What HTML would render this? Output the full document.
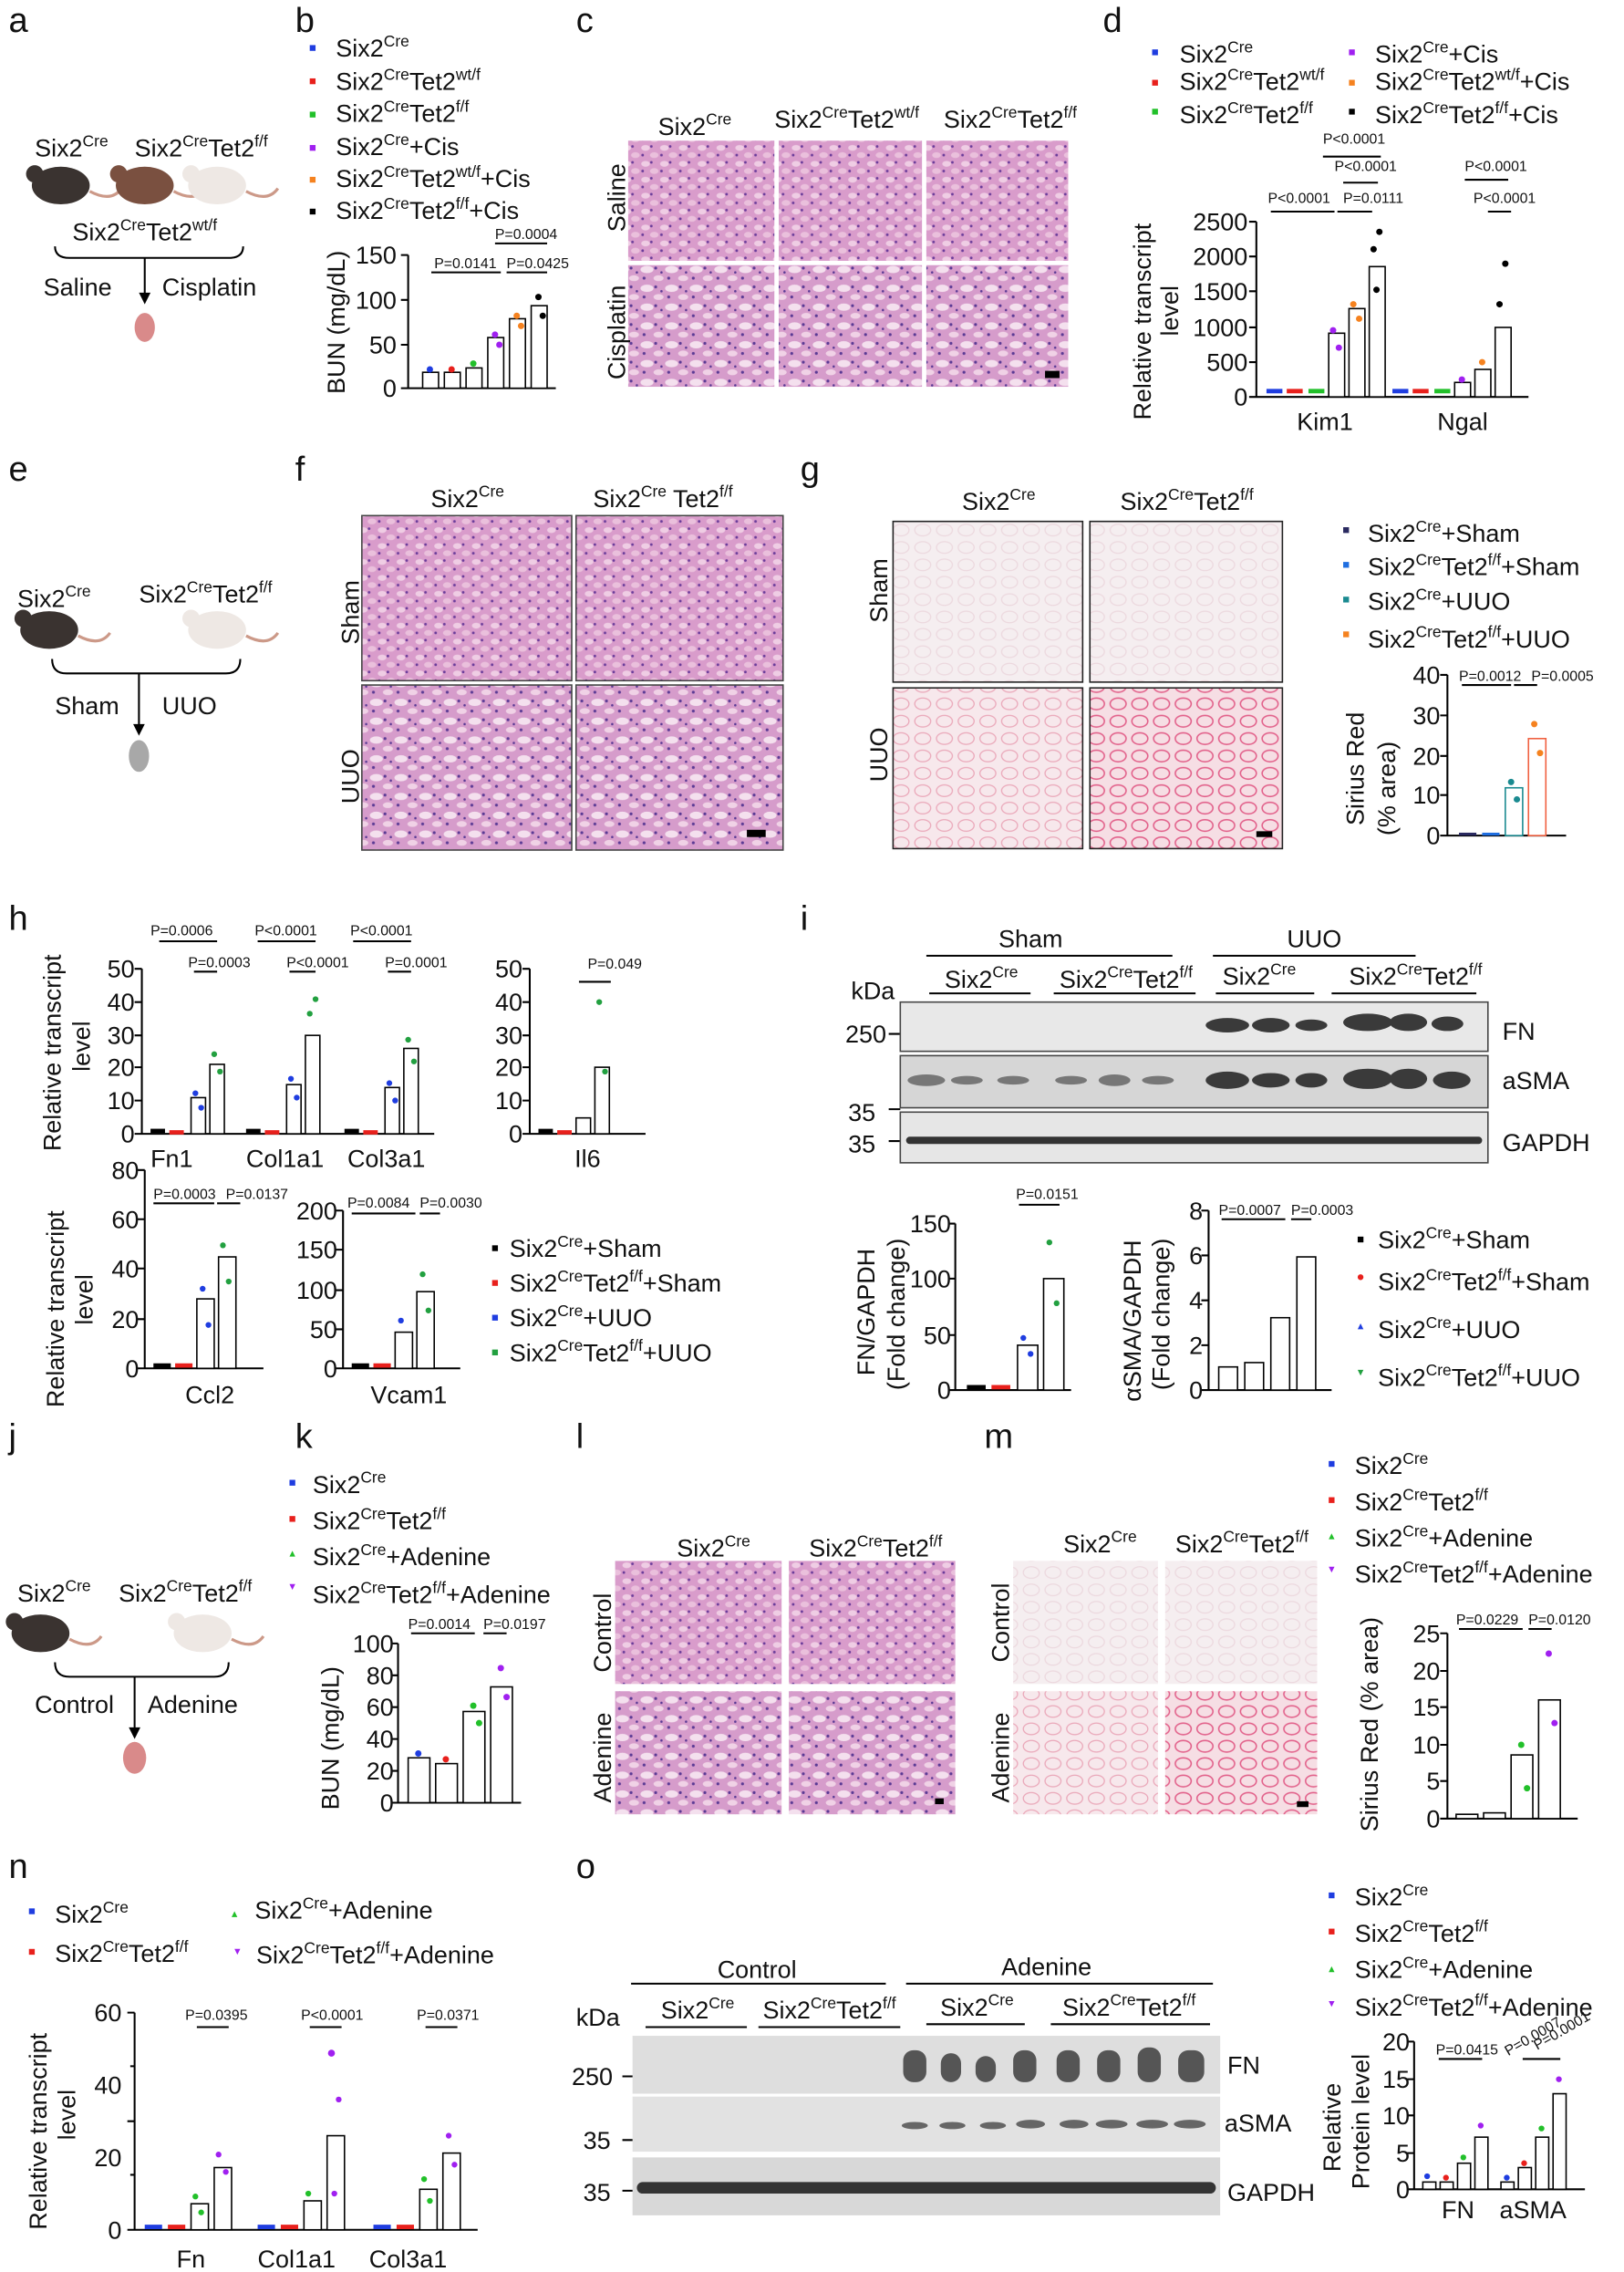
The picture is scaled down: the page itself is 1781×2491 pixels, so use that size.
<!DOCTYPE html>
<html><head><meta charset="utf-8"><style>
html,body{margin:0;padding:0;background:#fff}
svg{display:block}
text{font-family:"Liberation Sans",Arial,sans-serif;fill:#111}
.L{font-size:24px}
.t{font-size:17px}
.s{font-size:14px}
.p{font-size:10px}
.ax{stroke:#000;stroke-width:1.3;fill:none}
.b{fill:#fff;stroke:#000;stroke-width:1}
</style></head><body>
<svg width="1781" height="2491" viewBox="0 0 1122 1569" xmlns="http://www.w3.org/2000/svg">
<defs>
<pattern id="he" width="13" height="11" patternUnits="userSpaceOnUse">
<rect width="13" height="11" fill="#d99ccb"/>
<ellipse cx="4" cy="3" rx="3" ry="2" fill="#efcde4"/>
<ellipse cx="10" cy="8" rx="3" ry="2" fill="#eac0dc"/>
<circle cx="8" cy="2" r="0.9" fill="#6a3c9a"/>
<circle cx="2" cy="8" r="0.9" fill="#6a3c9a"/>
</pattern>
<pattern id="he2" width="17" height="13" patternUnits="userSpaceOnUse">
<rect width="17" height="13" fill="#d69ccb"/>
<ellipse cx="5" cy="4" rx="4.5" ry="2.5" fill="#f4e0ee"/>
<ellipse cx="13" cy="10" rx="3.5" ry="2" fill="#f0d2e6"/>
<circle cx="11" cy="3" r="1" fill="#5a3a94"/>
<circle cx="3" cy="10" r="1" fill="#5a3a94"/>
<circle cx="15" cy="6" r="0.8" fill="#5a3a94"/>
</pattern>
<pattern id="sr" width="15" height="12" patternUnits="userSpaceOnUse">
<rect width="15" height="12" fill="#f5eef0"/>
<ellipse cx="7.5" cy="6" rx="5.5" ry="4" fill="none" stroke="#ecd8de" stroke-width="0.8"/>
</pattern>
<pattern id="sr2" width="15" height="12" patternUnits="userSpaceOnUse">
<rect width="15" height="12" fill="#f7e8ec"/>
<ellipse cx="7.5" cy="6" rx="5.5" ry="4" fill="none" stroke="#eaa6b8" stroke-width="0.8"/>
</pattern>
<pattern id="sr3" width="15" height="12" patternUnits="userSpaceOnUse">
<rect width="15" height="12" fill="#f6dee4"/>
<ellipse cx="7.5" cy="6" rx="5.5" ry="4" fill="none" stroke="#e2608a" stroke-width="1"/>
</pattern>
<g id="mouse"><ellipse cx="0" cy="0" rx="20" ry="13"/><circle cx="-18" cy="-8" r="6"/><path d="M20 4 q15 8 22 -2" fill="none" stroke="#c98" stroke-width="2"/></g>
</defs>

<!-- Panel letters -->
<text class="L" x="6" y="22">a</text><text class="L" x="204" y="22">b</text><text class="L" x="398" y="22">c</text><text class="L" x="762" y="22">d</text>
<text class="L" x="6" y="332">e</text><text class="L" x="204" y="332">f</text><text class="L" x="553" y="332">g</text>
<text class="L" x="6" y="642">h</text><text class="L" x="553" y="642">i</text>
<text class="L" x="6" y="1000">j</text><text class="L" x="204" y="1000">k</text><text class="L" x="398" y="1000">l</text><text class="L" x="680" y="1000">m</text>
<text class="L" x="6" y="1297">n</text><text class="L" x="398" y="1297">o</text>

<!-- a -->
<text class="t" x="24" y="108">Six2<tspan font-size="11" dy="-7">Cre</tspan></text>
<text class="t" x="93" y="108">Six2<tspan font-size="11" dy="-7">Cre</tspan><tspan dy="7">Tet2</tspan><tspan font-size="11" dy="-7">f/f</tspan></text>
<use href="#mouse" x="42" y="128" fill="#3a3330"/><use href="#mouse" x="100" y="128" fill="#7a5040"/><use href="#mouse" x="150" y="128" fill="#eee8e4"/>
<text class="t" x="50" y="166">Six2<tspan font-size="11" dy="-7">Cre</tspan><tspan dy="7">Tet2</tspan><tspan font-size="11" dy="-7">wt/f</tspan></text>
<path d="M38 170 q0 8 10 8 h110 q10 0 10 -8 M100 178 v28" class="ax"/>
<path d="M96 202 l4 8 l4 -8z"/>
<text class="t" x="30" y="204">Saline</text><text class="t" x="112" y="204">Cisplatin</text>
<ellipse cx="100" cy="226" rx="7" ry="10" fill="#d98a8a"/>

<!-- b legend -->
<g class="t">
<rect x="214" y="31" width="4" height="4" fill="#1f3de0"/><text x="232" y="39">Six2<tspan font-size="11" dy="-7">Cre</tspan></text>
<rect x="214" y="54" width="4" height="4" fill="#e8201c"/><text x="232" y="62">Six2<tspan font-size="11" dy="-7">Cre</tspan><tspan dy="7">Tet2</tspan><tspan font-size="11" dy="-7">wt/f</tspan></text>
<rect x="214" y="77" width="4" height="4" fill="#22c02a"/><text x="232" y="84">Six2<tspan font-size="11" dy="-7">Cre</tspan><tspan dy="7">Tet2</tspan><tspan font-size="11" dy="-7">f/f</tspan></text>
<rect x="214" y="100" width="4" height="4" fill="#a020f0"/><text x="232" y="107">Six2<tspan font-size="11" dy="-7">Cre</tspan><tspan dy="7">+Cis</tspan></text>
<rect x="214" y="122" width="4" height="4" fill="#f5821f"/><text x="232" y="129">Six2<tspan font-size="11" dy="-7">Cre</tspan><tspan dy="7">Tet2</tspan><tspan font-size="11" dy="-7">wt/f</tspan><tspan dy="7">+Cis</tspan></text>
<rect x="214" y="144" width="4" height="4" fill="#000"/><text x="232" y="151">Six2<tspan font-size="11" dy="-7">Cre</tspan><tspan dy="7">Tet2</tspan><tspan font-size="11" dy="-7">f/f</tspan><tspan dy="7">+Cis</tspan></text>
</g>
<!-- b chart -->
<path class="ax" d="M282 176 V268 H384 M277 176h5 M277 207h5 M277 238h5 M277 268h5"/>
<g class="t" text-anchor="end"><text x="274" y="182">150</text><text x="274" y="213">100</text><text x="274" y="244">50</text><text x="274" y="274">0</text></g>
<text class="t" transform="translate(238,272) rotate(-90)">BUN (mg/dL)</text>
<rect class="b" x="292" y="257" width="11" height="11"/><rect class="b" x="307" y="257" width="11" height="11"/><rect class="b" x="322" y="254" width="11" height="14"/><rect class="b" x="337" y="233" width="11" height="35"/><rect class="b" x="352" y="220" width="11" height="48"/><rect class="b" x="367" y="211" width="11" height="57"/>
<g><circle cx="297" cy="255" r="2.2" fill="#1f3de0"/><circle cx="312" cy="255" r="2.2" fill="#e8201c"/><circle cx="327" cy="251" r="2.2" fill="#22c02a"/><circle cx="342" cy="231" r="2.2" fill="#a020f0"/><circle cx="345" cy="238" r="2.2" fill="#a020f0"/><circle cx="357" cy="218" r="2.2" fill="#f5821f"/><circle cx="360" cy="225" r="2.2" fill="#f5821f"/><circle cx="372" cy="205" r="2.2"/><circle cx="375" cy="218" r="2.2"/></g>
<path class="ax" d="M298 188h48 M350 188h28 M342 168h36"/>
<g class="p"><text x="300" y="185">P=0.0141</text><text x="350" y="185">P=0.0425</text><text x="342" y="165">P=0.0004</text></g>

<!-- c -->
<g class="t" text-anchor="middle"><text x="480" y="93">Six2<tspan font-size="11" dy="-7">Cre</tspan></text><text x="585" y="88">Six2<tspan font-size="11" dy="-7">Cre</tspan><tspan dy="7">Tet2</tspan><tspan font-size="11" dy="-7">wt/f</tspan></text><text x="698" y="88">Six2<tspan font-size="11" dy="-7">Cre</tspan><tspan dy="7">Tet2</tspan><tspan font-size="11" dy="-7">f/f</tspan></text></g>
<rect x="434" y="97" width="101" height="83" fill="url(#he)"/><rect x="538" y="97" width="99" height="83" fill="url(#he)"/><rect x="640" y="97" width="98" height="83" fill="url(#he)"/>
<rect x="434" y="183" width="101" height="84" fill="url(#he2)"/><rect x="538" y="183" width="99" height="84" fill="url(#he2)"/><rect x="640" y="183" width="98" height="84" fill="url(#he2)"/>
<rect x="722" y="256" width="10" height="5"/>
<text class="t" transform="translate(432,160) rotate(-90)">Saline</text><text class="t" transform="translate(432,262) rotate(-90)">Cisplatin</text>

<!-- d legend -->
<g class="t">
<rect x="796" y="34" width="4" height="4" fill="#1f3de0"/><text x="815" y="43">Six2<tspan font-size="11" dy="-7">Cre</tspan></text>
<rect x="796" y="55" width="4" height="4" fill="#e8201c"/><text x="815" y="62">Six2<tspan font-size="11" dy="-7">Cre</tspan><tspan dy="7">Tet2</tspan><tspan font-size="11" dy="-7">wt/f</tspan></text>
<rect x="796" y="75" width="4" height="4" fill="#22c02a"/><text x="815" y="85">Six2<tspan font-size="11" dy="-7">Cre</tspan><tspan dy="7">Tet2</tspan><tspan font-size="11" dy="-7">f/f</tspan></text>
<rect x="932" y="34" width="4" height="4" fill="#a020f0"/><text x="950" y="43">Six2<tspan font-size="11" dy="-7">Cre</tspan><tspan dy="7">+Cis</tspan></text>
<rect x="932" y="55" width="4" height="4" fill="#f5821f"/><text x="950" y="62">Six2<tspan font-size="11" dy="-7">Cre</tspan><tspan dy="7">Tet2</tspan><tspan font-size="11" dy="-7">wt/f</tspan><tspan dy="7">+Cis</tspan></text>
<rect x="932" y="75" width="4" height="4" fill="#000"/><text x="950" y="85">Six2<tspan font-size="11" dy="-7">Cre</tspan><tspan dy="7">Tet2</tspan><tspan font-size="11" dy="-7">f/f</tspan><tspan dy="7">+Cis</tspan></text>
</g>
<path class="ax" d="M868 153 V274 H1056 M863 153h5 M863 177h5 M863 201h5 M863 226h5 M863 250h5 M863 274h5"/>
<g class="t" text-anchor="end"><text x="862" y="159">2500</text><text x="862" y="183">2000</text><text x="862" y="207">1500</text><text x="862" y="232">1000</text><text x="862" y="256">500</text><text x="862" y="280">0</text></g>
<text class="t" transform="translate(795,290) rotate(-90)">Relative transcript</text><text class="t" transform="translate(814,232) rotate(-90)">level</text>
<g stroke-width="3"><path d="M875 270h11" stroke="#1f3de0"/><path d="M889 270h11" stroke="#e8201c"/><path d="M904 270h11" stroke="#22c02a"/><path d="M962 270h11" stroke="#1f3de0"/><path d="M976 270h11" stroke="#e8201c"/><path d="M991 270h11" stroke="#22c02a"/></g>
<rect class="b" x="918" y="230" width="11" height="44"/><rect class="b" x="932" y="213" width="11" height="61"/><rect class="b" x="946" y="184" width="11" height="90"/>
<rect class="b" x="1005" y="264" width="11" height="10"/><rect class="b" x="1019" y="255" width="11" height="19"/><rect class="b" x="1033" y="226" width="11" height="48"/>
<g><circle cx="921" cy="228" r="2.2" fill="#a020f0"/><circle cx="925" cy="240" r="2.2" fill="#a020f0"/><circle cx="935" cy="210" r="2.2" fill="#f5821f"/><circle cx="939" cy="220" r="2.2" fill="#f5821f"/><circle cx="949" cy="172" r="2.2"/><circle cx="953" cy="160" r="2.2"/><circle cx="951" cy="200" r="2.2"/><circle cx="1010" cy="262" r="2.2" fill="#a020f0"/><circle cx="1024" cy="250" r="2.2" fill="#f5821f"/><circle cx="1036" cy="210" r="2.2"/><circle cx="1040" cy="182" r="2.2"/></g>
<g class="t"><text x="896" y="297">Kim1</text><text x="993" y="297">Ngal</text></g>
<path class="ax" d="M878 146h44 M924 146h24 M928 126h24 M914 108h40 M1012 124h30 M1028 146h16"/>
<g class="p"><text x="876" y="140">P&lt;0.0001</text><text x="928" y="140">P=0.0111</text><text x="922" y="118">P&lt;0.0001</text><text x="914" y="99">P&lt;0.0001</text><text x="1012" y="118">P&lt;0.0001</text><text x="1018" y="140">P&lt;0.0001</text></g>

<!-- e -->
<text class="t" x="12" y="419">Six2<tspan font-size="11" dy="-7">Cre</tspan></text>
<text class="t" x="96" y="416">Six2<tspan font-size="11" dy="-7">Cre</tspan><tspan dy="7">Tet2</tspan><tspan font-size="11" dy="-7">f/f</tspan></text>
<use href="#mouse" x="34" y="435" fill="#3a3330"/><use href="#mouse" x="150" y="435" fill="#eee8e4"/>
<path d="M36 455 q0 10 10 10 h110 q10 0 10 -10 M96 465 v40" class="ax"/>
<path d="M92 500 l4 8 l4 -8z"/>
<text class="t" x="38" y="493">Sham</text><text class="t" x="112" y="493">UUO</text>
<ellipse cx="96" cy="522" rx="7" ry="11" fill="#a8a8a8"/>

<!-- f -->
<g class="t" text-anchor="middle"><text x="323" y="350">Six2<tspan font-size="11" dy="-7">Cre</tspan></text><text x="458" y="350">Six2<tspan font-size="11" dy="-7">Cre</tspan><tspan dy="7"> Tet2</tspan><tspan font-size="11" dy="-7">f/f</tspan></text></g>
<rect x="250" y="356" width="145" height="114" fill="url(#he)" stroke="#444"/><rect x="398" y="356" width="143" height="114" fill="url(#he)" stroke="#444"/>
<rect x="250" y="473" width="145" height="114" fill="url(#he2)" stroke="#444"/><rect x="398" y="473" width="143" height="114" fill="url(#he2)" stroke="#444"/>
<rect x="516" y="573" width="13" height="5"/>
<text class="t" transform="translate(248,445) rotate(-90)">Sham</text><text class="t" transform="translate(248,555) rotate(-90)">UUO</text>

<!-- g -->
<g class="t" text-anchor="middle"><text x="690" y="352">Six2<tspan font-size="11" dy="-7">Cre</tspan></text><text x="820" y="352">Six2<tspan font-size="11" dy="-7">Cre</tspan><tspan dy="7">Tet2</tspan><tspan font-size="11" dy="-7">f/f</tspan></text></g>
<rect x="617" y="360" width="131" height="111" fill="url(#sr)" stroke="#222"/><rect x="753" y="360" width="133" height="111" fill="url(#sr)" stroke="#222"/>
<rect x="617" y="475" width="131" height="111" fill="url(#sr2)" stroke="#222"/><rect x="753" y="475" width="133" height="111" fill="url(#sr3)" stroke="#222"/>
<rect x="868" y="574" width="11" height="4"/>
<text class="t" transform="translate(613,430) rotate(-90)">Sham</text><text class="t" transform="translate(613,540) rotate(-90)">UUO</text>
<g class="t">
<rect x="928" y="364" width="4" height="4" fill="#2a2a60"/><text x="945" y="374">Six2<tspan font-size="11" dy="-7">Cre</tspan><tspan dy="7">+Sham</tspan></text>
<rect x="928" y="388" width="4" height="4" fill="#1f6ee0"/><text x="945" y="397">Six2<tspan font-size="11" dy="-7">Cre</tspan><tspan dy="7">Tet2</tspan><tspan font-size="11" dy="-7">f/f</tspan><tspan dy="7">+Sham</tspan></text>
<rect x="928" y="412" width="4" height="4" fill="#1a8a90"/><text x="945" y="421">Six2<tspan font-size="11" dy="-7">Cre</tspan><tspan dy="7">+UUO</tspan></text>
<rect x="928" y="436" width="4" height="4" fill="#f5821f"/><text x="945" y="447">Six2<tspan font-size="11" dy="-7">Cre</tspan><tspan dy="7">Tet2</tspan><tspan font-size="11" dy="-7">f/f</tspan><tspan dy="7">+UUO</tspan></text>
</g>
<path class="ax" d="M1000 466 V577 H1082 M995 466h5 M995 494h5 M995 522h5 M995 549h5 M995 577h5"/>
<g class="t" text-anchor="end"><text x="995" y="472">40</text><text x="995" y="500">30</text><text x="995" y="528">20</text><text x="995" y="555">10</text><text x="995" y="583">0</text></g>
<text class="t" transform="translate(942,570) rotate(-90)">Sirius Red</text><text class="t" transform="translate(964,577) rotate(-90)">(% area)</text>
<rect x="1008" y="575" width="12" height="2" fill="#2a2a60"/><rect x="1024" y="575" width="12" height="2" fill="#1f6ee0"/>
<rect x="1040" y="544" width="12" height="33" fill="#fff" stroke="#1a8a90"/><rect x="1056" y="510" width="12" height="67" fill="#fff" stroke="#f06040"/>
<g><circle cx="1044" cy="540" r="2.2" fill="#1a8a90"/><circle cx="1048" cy="552" r="2.2" fill="#1a8a90"/><circle cx="1060" cy="500" r="2.2" fill="#f5821f"/><circle cx="1064" cy="520" r="2.2" fill="#f5821f"/></g>
<path class="ax" d="M1010 473h34 M1046 473h16"/>
<g class="p"><text x="1008" y="470">P=0.0012</text><text x="1058" y="470">P=0.0005</text></g>

<!-- h top -->
<path class="ax" d="M98 669 V783 H300 M93 669h5 M93 692h5 M93 715h5 M93 737h5 M93 760h5 M93 783h5"/>
<g class="t" text-anchor="end"><text x="93" y="675">50</text><text x="93" y="698">40</text><text x="93" y="721">30</text><text x="93" y="743">20</text><text x="93" y="766">10</text><text x="93" y="789">0</text></g>
<text class="t" transform="translate(42,795) rotate(-90)">Relative transcript</text><text class="t" transform="translate(62,740) rotate(-90)">level</text>
<rect class="b" x="132" y="758" width="10" height="25" stroke="#1f3de0"/><rect class="b" x="145" y="735" width="10" height="48" stroke="#22a040"/>
<rect class="b" x="198" y="749" width="10" height="34" stroke="#1f3de0"/><rect class="b" x="211" y="715" width="10" height="68" stroke="#22a040"/>
<rect class="b" x="266" y="751" width="10" height="32" stroke="#1f3de0"/><rect class="b" x="279" y="724" width="10" height="59" stroke="#22a040"/>
<g stroke-width="3"><path d="M104 781h10" stroke="#000"/><path d="M117 782h10" stroke="#e8201c"/><path d="M170 781h10" stroke="#000"/><path d="M183 782h10" stroke="#e8201c"/><path d="M238 781h10" stroke="#000"/><path d="M251 782h10" stroke="#e8201c"/></g>
<g fill="#1f3de0"><circle cx="135" cy="755" r="2"/><circle cx="139" cy="765" r="2"/><circle cx="201" cy="745" r="2"/><circle cx="205" cy="758" r="2"/><circle cx="269" cy="748" r="2"/><circle cx="273" cy="760" r="2"/></g>
<g fill="#22a040"><circle cx="148" cy="728" r="2"/><circle cx="152" cy="740" r="2"/><circle cx="214" cy="700" r="2"/><circle cx="218" cy="690" r="2"/><circle cx="282" cy="718" r="2"/><circle cx="286" cy="733" r="2"/></g>
<g class="t"><text x="104" y="806">Fn1</text><text x="170" y="806">Col1a1</text><text x="240" y="806">Col3a1</text></g>
<path class="ax" d="M110 650h40 M134 671h16 M178 650h40 M200 671h18 M244 650h40 M268 671h16"/>
<g class="p"><text x="104" y="646">P=0.0006</text><text x="130" y="668">P=0.0003</text><text x="176" y="646">P&lt;0.0001</text><text x="198" y="668">P&lt;0.0001</text><text x="242" y="646">P&lt;0.0001</text><text x="266" y="668">P=0.0001</text></g>
<path class="ax" d="M366 669 V783 H446 M361 669h5 M361 692h5 M361 715h5 M361 737h5 M361 760h5 M361 783h5"/>
<g class="t" text-anchor="end"><text x="361" y="675">50</text><text x="361" y="698">40</text><text x="361" y="721">30</text><text x="361" y="743">20</text><text x="361" y="766">10</text><text x="361" y="789">0</text></g>
<g stroke-width="3"><path d="M372 781h10" stroke="#000"/><path d="M385 782h10" stroke="#e8201c"/></g>
<rect class="b" x="398" y="772" width="10" height="11" stroke="#1f3de0"/><rect class="b" x="411" y="737" width="10" height="46" stroke="#22a040"/>
<g fill="#22a040"><circle cx="414" cy="692" r="2"/><circle cx="418" cy="740" r="2"/></g>
<path class="ax" d="M400 678h22"/><text class="p" x="406" y="669">P=0.049</text>
<text class="t" x="397" y="806">Il6</text>

<!-- h bottom -->
<path class="ax" d="M100 808 V945 H182 M95 808h5 M95 842h5 M95 876h5 M95 911h5 M95 945h5"/>
<g class="t" text-anchor="end"><text x="96" y="814">80</text><text x="96" y="848">60</text><text x="96" y="882">40</text><text x="96" y="917">20</text><text x="96" y="951">0</text></g>
<text class="t" transform="translate(44,972) rotate(-90)">Relative transcript</text><text class="t" transform="translate(64,915) rotate(-90)">level</text>
<g stroke-width="3"><path d="M106 943h12" stroke="#000"/><path d="M121 943h12" stroke="#e8201c"/></g>
<rect class="b" x="136" y="897" width="12" height="48" stroke="#1f3de0"/><rect class="b" x="151" y="868" width="12" height="77" stroke="#22a040"/>
<g fill="#1f3de0"><circle cx="140" cy="890" r="2"/><circle cx="144" cy="915" r="2"/></g><g fill="#22a040"><circle cx="154" cy="860" r="2"/><circle cx="158" cy="885" r="2"/></g>
<path class="ax" d="M106 831h42 M150 831h16"/>
<g class="p"><text x="106" y="828">P=0.0003</text><text x="156" y="828">P=0.0137</text></g>
<text class="t" x="128" y="969">Ccl2</text>
<path class="ax" d="M237 836 V945 H318 M232 836h5 M232 863h5 M232 891h5 M232 918h5 M232 945h5"/>
<g class="t" text-anchor="end"><text x="233" y="842">200</text><text x="233" y="869">150</text><text x="233" y="897">100</text><text x="233" y="924">50</text><text x="233" y="951">0</text></g>
<g stroke-width="3"><path d="M243 943h12" stroke="#000"/><path d="M258 943h12" stroke="#e8201c"/></g>
<rect class="b" x="273" y="920" width="12" height="25" stroke="#1f3de0"/><rect class="b" x="288" y="892" width="12" height="53" stroke="#22a040"/>
<g fill="#1f3de0"><circle cx="277" cy="912" r="2"/></g><g fill="#22a040"><circle cx="292" cy="880" r="2"/><circle cx="296" cy="905" r="2"/></g>
<path class="ax" d="M243 838h44 M290 838h14"/>
<g class="p"><text x="240" y="834">P=0.0084</text><text x="290" y="834">P=0.0030</text></g>
<text class="t" x="256" y="969">Vcam1</text>
<g class="t">
<rect x="340" y="860" width="4" height="4"/><text x="352" y="868">Six2<tspan font-size="11" dy="-7">Cre</tspan><tspan dy="7">+Sham</tspan></text>
<rect x="340" y="884" width="4" height="4" fill="#e8201c"/><text x="352" y="892">Six2<tspan font-size="11" dy="-7">Cre</tspan><tspan dy="7">Tet2</tspan><tspan font-size="11" dy="-7">f/f</tspan><tspan dy="7">+Sham</tspan></text>
<rect x="340" y="908" width="4" height="4" fill="#1f3de0"/><text x="352" y="916">Six2<tspan font-size="11" dy="-7">Cre</tspan><tspan dy="7">+UUO</tspan></text>
<rect x="340" y="932" width="4" height="4" fill="#22a040"/><text x="352" y="940">Six2<tspan font-size="11" dy="-7">Cre</tspan><tspan dy="7">Tet2</tspan><tspan font-size="11" dy="-7">f/f</tspan><tspan dy="7">+UUO</tspan></text>
</g>

<!-- i blot -->
<g class="t" text-anchor="middle"><text x="712" y="654">Sham</text><text x="908" y="654">UUO</text>
<text x="678" y="682">Six2<tspan font-size="11" dy="-7">Cre</tspan></text><text x="778" y="682">Six2<tspan font-size="11" dy="-7">Cre</tspan><tspan dy="7">Tet2</tspan><tspan font-size="11" dy="-7">f/f</tspan></text>
<text x="870" y="680">Six2<tspan font-size="11" dy="-7">Cre</tspan></text><text x="978" y="680">Six2<tspan font-size="11" dy="-7">Cre</tspan><tspan dy="7">Tet2</tspan><tspan font-size="11" dy="-7">f/f</tspan></text></g>
<path class="ax" d="M640 660h170 M838 660h140 M642 686h70 M728 686h98 M840 686h68 M920 686h100"/>
<text class="t" x="588" y="690">kDa</text>
<text class="t" x="584" y="720">250</text><text class="t" x="586" y="774">35</text><text class="t" x="586" y="796">35</text>
<path class="ax" d="M614 714h8 M614 766h8 M614 788h8"/>
<rect x="622" y="692" width="406" height="34" fill="#e8e8e8" stroke="#444"/>
<rect x="622" y="729" width="406" height="36" fill="#d6d6d6" stroke="#444"/>
<rect x="622" y="768" width="406" height="35" fill="#e6e6e6" stroke="#444"/>
<g fill="#3a3a3a"><ellipse cx="848" cy="708" rx="15" ry="5"/><ellipse cx="878" cy="708" rx="13" ry="5"/><ellipse cx="906" cy="708" rx="11" ry="4"/><ellipse cx="945" cy="706" rx="17" ry="6"/><ellipse cx="973" cy="706" rx="13" ry="6"/><ellipse cx="1000" cy="707" rx="11" ry="5"/></g>
<g fill="#777"><ellipse cx="640" cy="746" rx="13" ry="4"/><ellipse cx="668" cy="746" rx="11" ry="3"/><ellipse cx="700" cy="746" rx="11" ry="3"/><ellipse cx="740" cy="746" rx="11" ry="3"/><ellipse cx="770" cy="746" rx="11" ry="4"/><ellipse cx="800" cy="746" rx="11" ry="3"/></g>
<g fill="#3a3a3a"><ellipse cx="848" cy="746" rx="15" ry="6"/><ellipse cx="878" cy="746" rx="13" ry="5"/><ellipse cx="906" cy="746" rx="11" ry="5"/><ellipse cx="945" cy="745" rx="17" ry="7"/><ellipse cx="973" cy="745" rx="13" ry="7"/><ellipse cx="1003" cy="746" rx="13" ry="6"/></g>
<rect x="626" y="785" width="398" height="5" rx="2.5" fill="#333"/>
<g class="t"><text x="1038" y="718">FN</text><text x="1038" y="752">aSMA</text><text x="1038" y="795">GAPDH</text></g>
<!-- i charts -->
<path class="ax" d="M660 845 V960 H740 M655 845h5 M655 883h5 M655 922h5 M655 960h5"/>
<g class="t" text-anchor="end"><text x="657" y="851">150</text><text x="657" y="889">100</text><text x="657" y="928">50</text><text x="657" y="966">0</text></g>
<text class="t" transform="translate(604,950) rotate(-90)">FN/GAPDH</text><text class="t" transform="translate(625,960) rotate(-90)">(Fold change)</text>
<g stroke-width="3"><path d="M668 958h13" stroke="#000"/><path d="M685 958h13" stroke="#e8201c"/></g>
<rect class="b" x="703" y="929" width="14" height="31" stroke="#1f3de0"/><rect class="b" x="721" y="883" width="14" height="77" stroke="#22a040"/>
<g><circle cx="707" cy="924" r="2" fill="#1f3de0"/><circle cx="712" cy="935" r="2" fill="#1f3de0"/><circle cx="725" cy="858" r="2" fill="#22a040"/><circle cx="730" cy="900" r="2" fill="#22a040"/></g>
<path class="ax" d="M704 832h28"/><text class="p" x="702" y="828">P=0.0151</text>
<path class="ax" d="M835 836 V960 H920 M830 836h5 M830 867h5 M830 898h5 M830 929h5 M830 960h5"/>
<g class="t" text-anchor="end"><text x="831" y="842">8</text><text x="831" y="873">6</text><text x="831" y="904">4</text><text x="831" y="935">2</text><text x="831" y="966">0</text></g>
<text class="t" transform="translate(788,968) rotate(-90)">αSMA/GAPDH</text><text class="t" transform="translate(808,960) rotate(-90)">(Fold change)</text>
<rect class="b" x="842" y="944" width="13" height="16"/><rect class="b" x="860" y="941" width="13" height="19" stroke="#e8201c"/><rect class="b" x="878" y="910" width="13" height="50" stroke="#1f3de0"/><rect class="b" x="896" y="868" width="13" height="92" stroke="#22a040"/>
<path class="ax" d="M844 842h44 M892 842h14"/>
<g class="p"><text x="842" y="839">P=0.0007</text><text x="892" y="839">P=0.0003</text></g>
<g class="t">
<rect x="938" y="854" width="4" height="4"/><text x="952" y="862">Six2<tspan font-size="11" dy="-7">Cre</tspan><tspan dy="7">+Sham</tspan></text>
<circle cx="940" cy="882" r="2" fill="#e8201c"/><text x="952" y="891">Six2<tspan font-size="11" dy="-7">Cre</tspan><tspan dy="7">Tet2</tspan><tspan font-size="11" dy="-7">f/f</tspan><tspan dy="7">+Sham</tspan></text>
<path d="M938 918l2 -4l2 4z" fill="#1f3de0"/><text x="952" y="924">Six2<tspan font-size="11" dy="-7">Cre</tspan><tspan dy="7">+UUO</tspan></text>
<path d="M938 946l2 4l2 -4z" fill="#22a040"/><text x="952" y="957">Six2<tspan font-size="11" dy="-7">Cre</tspan><tspan dy="7">Tet2</tspan><tspan font-size="11" dy="-7">f/f</tspan><tspan dy="7">+UUO</tspan></text>
</g>

<!-- j -->
<text class="t" x="12" y="1106">Six2<tspan font-size="11" dy="-7">Cre</tspan></text>
<text class="t" x="82" y="1106">Six2<tspan font-size="11" dy="-7">Cre</tspan><tspan dy="7">Tet2</tspan><tspan font-size="11" dy="-7">f/f</tspan></text>
<use href="#mouse" x="28" y="1128" fill="#3a3330"/><use href="#mouse" x="140" y="1128" fill="#eee8e4"/>
<path d="M38 1148 q0 10 10 10 h100 q10 0 10 -10 M93 1158 v40" class="ax"/>
<path d="M89 1193 l4 8 l4 -8z"/>
<text class="t" x="24" y="1183">Control</text><text class="t" x="102" y="1183">Adenine</text>
<ellipse cx="93" cy="1214" rx="8" ry="11" fill="#d98a8a"/>

<!-- k -->
<g class="t">
<rect x="200" y="1022" width="4" height="4" fill="#1f3de0"/><text x="216" y="1031">Six2<tspan font-size="11" dy="-7">Cre</tspan></text>
<rect x="200" y="1047" width="4" height="4" fill="#e8201c"/><text x="216" y="1056">Six2<tspan font-size="11" dy="-7">Cre</tspan><tspan dy="7">Tet2</tspan><tspan font-size="11" dy="-7">f/f</tspan></text>
<path d="M200 1075l2 -4l2 4z" fill="#22c02a"/><text x="216" y="1081">Six2<tspan font-size="11" dy="-7">Cre</tspan><tspan dy="7">+Adenine</tspan></text>
<path d="M200 1094l2 4l2 -4z" fill="#a020f0"/><text x="216" y="1107">Six2<tspan font-size="11" dy="-7">Cre</tspan><tspan dy="7">Tet2</tspan><tspan font-size="11" dy="-7">f/f</tspan><tspan dy="7">+Adenine</tspan></text>
</g>
<path class="ax" d="M275 1135 V1245 H360 M270 1135h5 M270 1157h5 M270 1179h5 M270 1201h5 M270 1223h5 M270 1245h5"/>
<g class="t" text-anchor="end"><text x="272" y="1141">100</text><text x="272" y="1163">80</text><text x="272" y="1185">60</text><text x="272" y="1207">40</text><text x="272" y="1229">20</text><text x="272" y="1251">0</text></g>
<text class="t" transform="translate(234,1250) rotate(-90)">BUN (mg/dL)</text>
<rect class="b" x="282" y="1214" width="15" height="31"/><rect class="b" x="301" y="1218" width="15" height="27"/><rect class="b" x="320" y="1182" width="15" height="63"/><rect class="b" x="339" y="1165" width="15" height="80"/>
<g><circle cx="289" cy="1211" r="2.2" fill="#1f3de0"/><circle cx="308" cy="1215" r="2.2" fill="#e8201c"/><circle cx="327" cy="1178" r="2.2" fill="#22c02a"/><circle cx="331" cy="1190" r="2.2" fill="#22c02a"/><circle cx="346" cy="1152" r="2.2" fill="#a020f0"/><circle cx="350" cy="1172" r="2.2" fill="#a020f0"/></g>
<path class="ax" d="M284 1128h44 M334 1128h16"/>
<g class="p"><text x="282" y="1125">P=0.0014</text><text x="334" y="1125">P=0.0197</text></g>

<!-- l -->
<g class="t" text-anchor="middle"><text x="493" y="1075">Six2<tspan font-size="11" dy="-7">Cre</tspan></text><text x="605" y="1075">Six2<tspan font-size="11" dy="-7">Cre</tspan><tspan dy="7">Tet2</tspan><tspan font-size="11" dy="-7">f/f</tspan></text></g>
<rect x="425" y="1078" width="115" height="85" fill="url(#he)"/><rect x="545" y="1078" width="115" height="85" fill="url(#he)"/>
<rect x="425" y="1168" width="115" height="85" fill="url(#he2)"/><rect x="545" y="1168" width="115" height="85" fill="url(#he2)"/>
<rect x="646" y="1242" width="6" height="4"/>
<text class="t" transform="translate(422,1155) rotate(-90)">Control</text><text class="t" transform="translate(422,1245) rotate(-90)">Adenine</text>

<!-- m -->
<g class="t" text-anchor="middle"><text x="760" y="1072">Six2<tspan font-size="11" dy="-7">Cre</tspan></text><text x="858" y="1072">Six2<tspan font-size="11" dy="-7">Cre</tspan><tspan dy="7">Tet2</tspan><tspan font-size="11" dy="-7">f/f</tspan></text></g>
<rect x="700" y="1078" width="100" height="85" fill="url(#sr)"/><rect x="805" y="1078" width="105" height="85" fill="url(#sr)"/>
<rect x="700" y="1168" width="100" height="85" fill="url(#sr2)"/><rect x="805" y="1168" width="105" height="85" fill="url(#sr3)"/>
<rect x="896" y="1244" width="8" height="4"/>
<text class="t" transform="translate(697,1148) rotate(-90)">Control</text><text class="t" transform="translate(697,1245) rotate(-90)">Adenine</text>
<g class="t">
<rect x="918" y="1009" width="4" height="4" fill="#1f3de0"/><text x="936" y="1018">Six2<tspan font-size="11" dy="-7">Cre</tspan></text>
<rect x="918" y="1034" width="4" height="4" fill="#e8201c"/><text x="936" y="1043">Six2<tspan font-size="11" dy="-7">Cre</tspan><tspan dy="7">Tet2</tspan><tspan font-size="11" dy="-7">f/f</tspan></text>
<path d="M918 1063l2 -4l2 4z" fill="#22c02a"/><text x="936" y="1068">Six2<tspan font-size="11" dy="-7">Cre</tspan><tspan dy="7">+Adenine</tspan></text>
<path d="M918 1082l2 4l2 -4z" fill="#a020f0"/><text x="936" y="1093">Six2<tspan font-size="11" dy="-7">Cre</tspan><tspan dy="7">Tet2</tspan><tspan font-size="11" dy="-7">f/f</tspan><tspan dy="7">+Adenine</tspan></text>
</g>
<path class="ax" d="M1000 1128 V1256 H1090 M995 1128h5 M995 1154h5 M995 1179h5 M995 1205h5 M995 1230h5 M995 1256h5"/>
<g class="t" text-anchor="end"><text x="995" y="1134">25</text><text x="995" y="1160">20</text><text x="995" y="1185">15</text><text x="995" y="1211">10</text><text x="995" y="1236">5</text><text x="995" y="1262">0</text></g>
<text class="t" transform="translate(952,1265) rotate(-90)">Sirius Red (% area)</text>
<rect class="b" x="1006" y="1253" width="15" height="3"/><rect class="b" x="1025" y="1252" width="15" height="4"/><rect class="b" x="1044" y="1212" width="15" height="44"/><rect class="b" x="1063" y="1174" width="15" height="82"/>
<g><circle cx="1051" cy="1205" r="2.2" fill="#22c02a"/><circle cx="1055" cy="1235" r="2.2" fill="#22c02a"/><circle cx="1070" cy="1142" r="2.2" fill="#a020f0"/><circle cx="1074" cy="1190" r="2.2" fill="#a020f0"/></g>
<path class="ax" d="M1008 1125h44 M1056 1125h16"/>
<g class="p"><text x="1006" y="1122">P=0.0229</text><text x="1056" y="1122">P=0.0120</text></g>

<!-- n -->
<g class="t">
<rect x="20" y="1318" width="4" height="4" fill="#1f3de0"/><text x="38" y="1328">Six2<tspan font-size="11" dy="-7">Cre</tspan></text>
<rect x="20" y="1346" width="4" height="4" fill="#e8201c"/><text x="38" y="1355">Six2<tspan font-size="11" dy="-7">Cre</tspan><tspan dy="7">Tet2</tspan><tspan font-size="11" dy="-7">f/f</tspan></text>
<path d="M160 1324l2 -4l2 4z" fill="#22c02a"/><text x="176" y="1325">Six2<tspan font-size="11" dy="-7">Cre</tspan><tspan dy="7">+Adenine</tspan></text>
<path d="M162 1346l2 4l2 -4z" fill="#a020f0"/><text x="177" y="1356">Six2<tspan font-size="11" dy="-7">Cre</tspan><tspan dy="7">Tet2</tspan><tspan font-size="11" dy="-7">f/f</tspan><tspan dy="7">+Adenine</tspan></text>
</g>
<path class="ax" d="M93 1390 V1540 H330 M88 1390h5 M88 1465h5 M88 1540h5 M90 1427h3 M90 1502h3"/>
<g class="t" text-anchor="end"><text x="84" y="1396">60</text><text x="84" y="1446">40</text><text x="84" y="1496">20</text><text x="84" y="1546">0</text></g>
<text class="t" transform="translate(32,1540) rotate(-90)">Relative transcript</text><text class="t" transform="translate(52,1478) rotate(-90)">level</text>
<g stroke-width="3"><path d="M100 1538h12" stroke="#1f3de0"/><path d="M116 1538h12" stroke="#e8201c"/><path d="M178 1538h12" stroke="#1f3de0"/><path d="M194 1538h12" stroke="#e8201c"/><path d="M258 1538h12" stroke="#1f3de0"/><path d="M274 1538h12" stroke="#e8201c"/></g>
<rect class="b" x="132" y="1522" width="12" height="18" stroke="#22c02a"/><rect class="b" x="148" y="1497" width="12" height="43" stroke="#a020f0"/>
<rect class="b" x="210" y="1520" width="12" height="20" stroke="#22c02a"/><rect class="b" x="226" y="1475" width="12" height="65" stroke="#a020f0"/>
<rect class="b" x="290" y="1512" width="12" height="28" stroke="#22c02a"/><rect class="b" x="306" y="1487" width="12" height="53" stroke="#a020f0"/>
<g fill="#a020f0"><circle cx="151" cy="1488" r="2"/><circle cx="156" cy="1500" r="2"/><circle cx="229" cy="1418" r="2.4"/><circle cx="234" cy="1450" r="2"/><circle cx="231" cy="1515" r="2"/><circle cx="310" cy="1475" r="2"/><circle cx="314" cy="1495" r="2"/></g>
<g fill="#22c02a"><circle cx="135" cy="1517" r="2"/><circle cx="139" cy="1528" r="2"/><circle cx="213" cy="1515" r="2"/><circle cx="293" cy="1505" r="2"/><circle cx="297" cy="1520" r="2"/></g>
<path class="ax" d="M136 1400h22 M214 1400h22 M294 1400h22"/>
<g class="p"><text x="128" y="1395">P=0.0395</text><text x="208" y="1395">P&lt;0.0001</text><text x="288" y="1395">P=0.0371</text></g>
<g class="t"><text x="122" y="1566">Fn</text><text x="178" y="1566">Col1a1</text><text x="255" y="1566">Col3a1</text></g>

<!-- o blot -->
<g class="t" text-anchor="middle"><text x="523" y="1366">Control</text><text x="723" y="1364">Adenine</text>
<text x="482" y="1394">Six2<tspan font-size="11" dy="-7">Cre</tspan></text><text x="573" y="1394">Six2<tspan font-size="11" dy="-7">Cre</tspan><tspan dy="7">Tet2</tspan><tspan font-size="11" dy="-7">f/f</tspan></text>
<text x="675" y="1392">Six2<tspan font-size="11" dy="-7">Cre</tspan></text><text x="780" y="1392">Six2<tspan font-size="11" dy="-7">Cre</tspan><tspan dy="7">Tet2</tspan><tspan font-size="11" dy="-7">f/f</tspan></text></g>
<path class="ax" d="M436 1370h176 M626 1370h212 M446 1400h70 M524 1400h98 M640 1398h68 M726 1398h110"/>
<text class="t" x="398" y="1399">kDa</text><text class="t" x="395" y="1440">250</text><text class="t" x="403" y="1484">35</text><text class="t" x="403" y="1520">35</text>
<path class="ax" d="M430 1434h8 M430 1478h8 M430 1513h8"/>
<rect x="437" y="1406" width="406" height="40" fill="#dedede"/>
<rect x="437" y="1448" width="406" height="38" fill="#e2e2e2"/>
<rect x="437" y="1490" width="406" height="40" fill="#d8d8d8"/>
<g fill="#555"><rect x="624" y="1416" width="16" height="22" rx="7"/><rect x="650" y="1418" width="14" height="20" rx="7"/><rect x="674" y="1420" width="14" height="18" rx="7"/><rect x="700" y="1416" width="16" height="22" rx="7"/><rect x="730" y="1416" width="16" height="22" rx="7"/><rect x="758" y="1416" width="16" height="22" rx="7"/><rect x="786" y="1414" width="16" height="24" rx="7"/><rect x="814" y="1416" width="18" height="22" rx="7"/></g>
<g fill="#666"><ellipse cx="632" cy="1468" rx="9" ry="2.5"/><ellipse cx="658" cy="1468" rx="9" ry="2.5"/><ellipse cx="686" cy="1468" rx="9" ry="2.5"/><ellipse cx="712" cy="1467" rx="10" ry="3"/><ellipse cx="742" cy="1467" rx="10" ry="3"/><ellipse cx="768" cy="1467" rx="11" ry="3"/><ellipse cx="796" cy="1467" rx="11" ry="3"/><ellipse cx="822" cy="1467" rx="11" ry="3"/></g>
<rect x="440" y="1507" width="400" height="8" rx="4" fill="#333"/>
<g class="t"><text x="848" y="1432">FN</text><text x="846" y="1472">aSMA</text><text x="848" y="1520">GAPDH</text></g>
<!-- o chart -->
<g class="t">
<rect x="918" y="1307" width="4" height="4" fill="#1f3de0"/><text x="936" y="1316">Six2<tspan font-size="11" dy="-7">Cre</tspan></text>
<rect x="918" y="1332" width="4" height="4" fill="#e8201c"/><text x="936" y="1341">Six2<tspan font-size="11" dy="-7">Cre</tspan><tspan dy="7">Tet2</tspan><tspan font-size="11" dy="-7">f/f</tspan></text>
<path d="M918 1362l2 -4l2 4z" fill="#22c02a"/><text x="936" y="1366">Six2<tspan font-size="11" dy="-7">Cre</tspan><tspan dy="7">+Adenine</tspan></text>
<path d="M918 1382l2 4l2 -4z" fill="#a020f0"/><text x="936" y="1392">Six2<tspan font-size="11" dy="-7">Cre</tspan><tspan dy="7">Tet2</tspan><tspan font-size="11" dy="-7">f/f</tspan><tspan dy="7">+Adenine</tspan></text>
</g>
<path class="ax" d="M977 1410 V1512 H1095 M972 1410h5 M972 1436h5 M972 1461h5 M972 1487h5 M972 1512h5"/>
<g class="t" text-anchor="end"><text x="974" y="1416">20</text><text x="974" y="1442">15</text><text x="974" y="1467">10</text><text x="974" y="1493">5</text><text x="974" y="1518">0</text></g>
<text class="t" transform="translate(926,1500) rotate(-90)">Relative</text><text class="t" transform="translate(946,1512) rotate(-90)">Protein level</text>
<rect class="b" x="983" y="1507" width="9" height="5"/><rect class="b" x="995" y="1507" width="9" height="5"/><rect class="b" x="1007" y="1494" width="9" height="18"/><rect class="b" x="1019" y="1476" width="9" height="36"/>
<rect class="b" x="1037" y="1507" width="9" height="5"/><rect class="b" x="1049" y="1497" width="9" height="15"/><rect class="b" x="1061" y="1476" width="9" height="36"/><rect class="b" x="1073" y="1446" width="9" height="66"/>
<g><circle cx="986" cy="1503" r="2" fill="#1f3de0"/><circle cx="999" cy="1504" r="2" fill="#e8201c"/><circle cx="1011" cy="1490" r="2" fill="#22c02a"/><circle cx="1023" cy="1468" r="2" fill="#a020f0"/><circle cx="1041" cy="1504" r="2" fill="#1f3de0"/><circle cx="1053" cy="1494" r="2" fill="#e8201c"/><circle cx="1065" cy="1470" r="2" fill="#22c02a"/><circle cx="1077" cy="1436" r="2" fill="#a020f0"/></g>
<path class="ax" d="M994 1422h30 M1052 1422h26"/>
<g class="p"><text x="992" y="1419">P=0.0415</text><text transform="translate(1042,1420) rotate(-30)">P=0.0007</text><text transform="translate(1062,1416) rotate(-30)">P=0.0001</text></g>
<g class="t"><text x="996" y="1532">FN</text><text x="1036" y="1532">aSMA</text></g>
</svg>
</body></html>
